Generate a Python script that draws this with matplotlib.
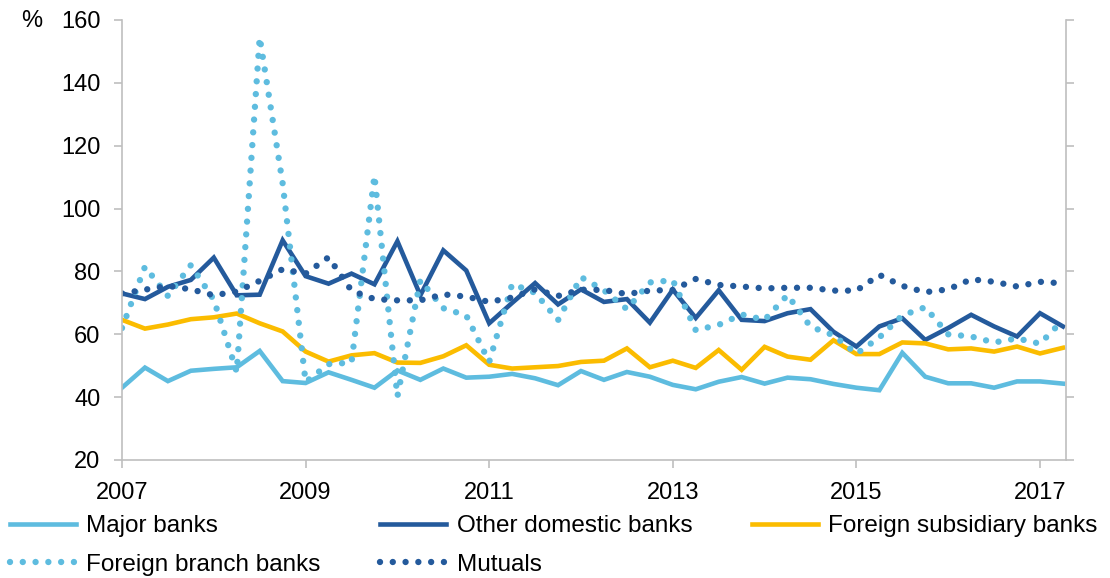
import numpy as np
import matplotlib
matplotlib.use("Agg")
import matplotlib.pyplot as plt

plt.rcParams['font.family'] = ['Liberation Sans', 'DejaVu Sans']

# Quarterly observations, 2007 Q1 onwards
start_year = 2007
n_quarters = 42

major_banks = [43.0, 49.4, 45.1, 48.4, 49.0, 49.5, 54.7, 45.1, 44.5, 47.9,
               45.5, 43.0, 48.5, 45.5, 49.1, 46.2, 46.5, 47.4, 46.0, 43.8,
               48.3, 45.5, 48.0, 46.5, 43.9, 42.5, 44.9, 46.4, 44.3, 46.2,
               45.7, 44.2, 43.0, 42.2, 54.1, 46.5, 44.4, 44.4, 43.0, 45.0,
               45.0, 44.3]
other_domestic = [73.0, 71.2, 75.1, 77.3, 84.4, 72.4, 72.6, 89.9, 78.5, 76.1,
                  79.3, 75.9, 89.6, 72.4, 86.7, 80.3, 63.5, 70.0, 76.3, 69.5,
                  74.3, 70.3, 71.2, 63.7, 74.2, 65.2, 74.0, 64.6, 64.2, 66.7,
                  68.0, 60.8, 56.1, 62.5, 65.1, 58.2, 62.0, 66.2, 62.5, 59.3,
                  66.7, 62.5]
foreign_subsidiary = [64.6, 61.8, 63.1, 64.8, 65.4, 66.6, 63.5, 60.9, 54.5, 51.3,
                      53.3, 54.0, 51.0, 50.9, 53.0, 56.5, 50.3, 49.1, 49.5, 49.9,
                      51.2, 51.6, 55.5, 49.5, 51.6, 49.3, 55.0, 48.7, 56.0, 52.9,
                      51.9, 58.1, 53.7, 53.7, 57.4, 57.1, 55.2, 55.5, 54.5, 56.1,
                      53.9, 55.7]
foreign_branch = [62.0, 81.5, 72.2, 82.0, 71.0, 48.0, 154.5, 108.0, 44.8, 50.5,
                  51.0, 110.5, 40.2, 77.2, 68.3, 66.0, 51.2, 76.0, 73.2, 64.5,
                  78.2, 74.0, 68.0, 76.5, 77.2, 61.3, 63.0, 66.3, 64.6, 72.5,
                  62.4, 59.7, 53.8, 59.0, 66.0, 68.6, 60.0, 59.3, 57.4, 58.7,
                  57.0, 64.5]
mutuals = [73.0, 74.2, 75.4, 74.3, 72.4, 73.6, 77.0, 80.7, 79.3, 84.5,
           73.9, 71.2, 70.8, 70.8, 72.7, 72.0, 70.3, 71.7, 74.3, 72.2,
           74.2, 74.1, 72.8, 73.9, 74.1, 77.6, 75.7, 75.2, 74.6, 74.8,
           74.8, 73.9, 73.9, 78.9, 75.4, 73.4, 74.3, 77.5, 76.7, 75.2,
           76.7, 76.2]

series_labels = ["Major banks", "Other domestic banks", "Foreign subsidiary banks",
                 "Foreign branch banks", "Mutuals"]
year_ticks = [2007, 2009, 2011, 2013, 2015, 2017]
y_ticks = [20, 40, 60, 80, 100, 120, 140, 160]

LIGHT_BLUE = "#5EBCDF"
DARK_BLUE = "#245A9C"
YELLOW = "#FBBC00"
AXIS_GREY = "#BFBFBF"

quarters = start_year + np.arange(n_quarters) * 0.25

W, H = 1110, 578
fig = plt.figure(figsize=(W / 100, H / 100), dpi=100)
ax = fig.add_axes([122 / W, (H - 460) / H, (1065.7 - 122) / W, 440 / H])

solid_lw = 3.3
dot_lw = 4.6
dot_style = (0, (0.001, 2.0))

ax.plot(quarters, major_banks, color=LIGHT_BLUE, lw=solid_lw,
        solid_joinstyle='miter', label=series_labels[0])
ax.plot(quarters, other_domestic, color=DARK_BLUE, lw=solid_lw,
        solid_joinstyle='miter', label=series_labels[1])
ax.plot(quarters, foreign_subsidiary, color=YELLOW, lw=solid_lw,
        solid_joinstyle='miter', label=series_labels[2])
ax.plot(quarters, foreign_branch, color=LIGHT_BLUE, lw=dot_lw,
        linestyle=dot_style, dash_capstyle='round', label=series_labels[3])
ax.plot(quarters, mutuals, color=DARK_BLUE, lw=dot_lw,
        linestyle=dot_style, dash_capstyle='round', label=series_labels[4])

ax.set_xlim(2007, 2007 + (1065.7 - 122) / 91.8)
ax.set_ylim(20, 160)
ax.set_xticks(year_ticks)
ax.set_xticklabels([str(y) for y in year_ticks])
ax.set_yticks(y_ticks)

for side in ("left", "right", "bottom"):
    ax.spines[side].set_color(AXIS_GREY)
    ax.spines[side].set_linewidth(1.2)
ax.spines["top"].set_visible(False)

ax.tick_params(axis='both', direction='out', length=6, width=1.2,
               color=AXIS_GREY, labelsize=17, labelcolor='black', pad=9.5)
ax.tick_params(axis='y', right=True, labelright=False)

fig.text(32 / W, 1 - 21 / H, "%", fontsize=17, ha='center', va='center')

# Legend laid out row by row: matplotlib fills columns first
handles, labels = ax.get_legend_handles_labels()
order = [0, 3, 1, 4, 2]
leg = fig.legend([handles[i] for i in order], [labels[i] for i in order],
                 ncol=3, loc='upper left', bbox_to_anchor=(10 / W, 1 - 515 / H),
                 frameon=False, fontsize=17.5, handlelength=2.72,
                 handletextpad=0.42, columnspacing=2.45, labelspacing=0.68,
                 borderpad=0, borderaxespad=0)

fig.savefig("out.png", dpi=100)
